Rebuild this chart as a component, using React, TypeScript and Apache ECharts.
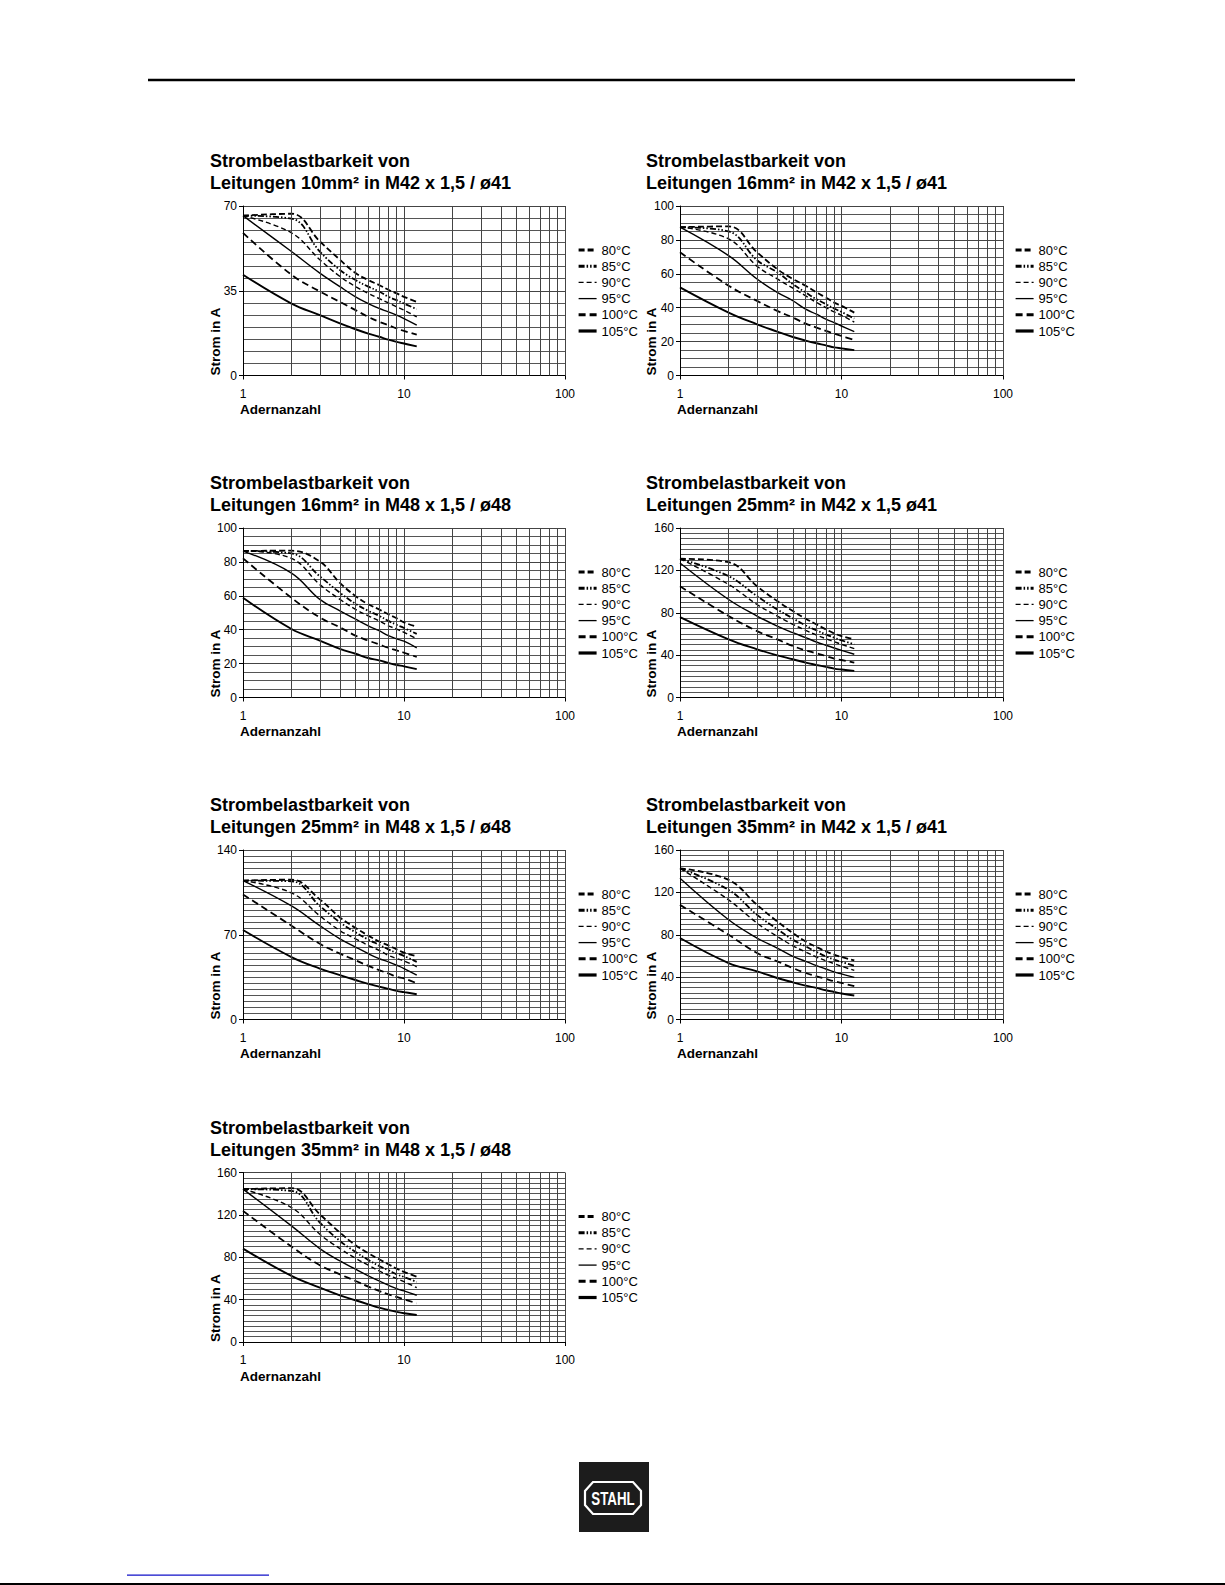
import React, { useEffect, useRef } from 'react';
import * as echarts from 'echarts';

const FONT = '"Liberation Sans", Arial, Helvetica, sans-serif';

// Adernanzahl (number of cores) at which the curves are sampled
const cores = [1, 2, 3, 4, 5, 6, 7, 8, 9, 10, 12];
const temps = ['80°C', '85°C', '90°C', '95°C', '100°C', '105°C'];
const xMinorGrid = [2, 3, 4, 5, 6, 7, 8, 9, 20, 30, 40, 50, 60, 70, 80, 90];

const titles = [
  'Strombelastbarkeit von\nLeitungen 10mm² in M42 x 1,5 / ø41',
  'Strombelastbarkeit von\nLeitungen 16mm² in M42 x 1,5 / ø41',
  'Strombelastbarkeit von\nLeitungen 16mm² in M48 x 1,5 / ø48',
  'Strombelastbarkeit von\nLeitungen 25mm² in M42 x 1,5 ø41',
  'Strombelastbarkeit von\nLeitungen 25mm² in M48 x 1,5 / ø48',
  'Strombelastbarkeit von\nLeitungen 35mm² in M42 x 1,5 / ø41',
  'Strombelastbarkeit von\nLeitungen 35mm² in M48 x 1,5 / ø48',
];
const yMax = [70, 100, 100, 160, 140, 160, 160];
const yStep = [35, 20, 20, 40, 70, 40, 40];
const yMinorSplits = [7, 4, 4, 8, 14, 8, 8];

// Strom in A, one row per temperature (80, 85, 90, 95, 100, 105 °C)
const curves10M42 = [
  [66, 66.8, 55.4, 47.8, 42.3, 39.4, 37.4, 35.4, 33.9, 32.5, 30.4],
  [66, 64.8, 51.2, 43.6, 39.4, 36.7, 34.7, 32.5, 31.1, 29.7, 27.4],
  [66, 58.9, 47.8, 40.9, 36.7, 33.9, 31.8, 30, 28.4, 27, 24.2],
  [66, 51.2, 42.3, 36.7, 32.5, 29.7, 27.7, 26.3, 24.9, 23.5, 20.8],
  [58.9, 41.6, 34.7, 30.4, 27, 24.2, 22.2, 20.8, 19.4, 18.4, 16.9],
  [41.6, 29.7, 24.9, 21.5, 19.1, 17.3, 16, 14.8, 13.9, 13.2, 12],
];
const curves16M42 = [
  [87.5, 88, 72.7, 62.8, 56.9, 53, 49, 46, 43, 41.1, 37.1],
  [87.5, 85, 68, 60.9, 53.9, 49, 45, 42.1, 39.5, 37.5, 33.6],
  [87.5, 80.6, 64.5, 57, 51.5, 47, 43.1, 40.1, 37.5, 35.5, 31.5],
  [87.5, 70.7, 56.9, 49, 44.1, 39.1, 36.2, 33.2, 31.2, 29.2, 25.9],
  [72.7, 53, 44, 38.1, 34.2, 30.6, 28.3, 26.3, 24.7, 23.3, 21],
  [52, 37.1, 30.2, 25.9, 22.7, 20.6, 19, 17.8, 16.6, 16, 15],
];
const curves16M48 = [
  [86.5, 86.6, 80.2, 67.6, 59.8, 55, 52, 49.1, 46.8, 44.3, 41.8],
  [86.5, 85, 71.5, 61.8, 55.3, 51.1, 48.2, 45.2, 42.9, 41, 37.5],
  [86.5, 82.1, 66.6, 57.9, 52, 48.2, 45.2, 42.3, 40.4, 38.4, 34.6],
  [86.4, 73.4, 57.9, 51.1, 46.2, 42.3, 39.4, 36.5, 34.6, 33.2, 29.3],
  [82.1, 58.8, 47.2, 41.4, 36.5, 33.6, 31.3, 29.3, 27.8, 26.4, 23.9],
  [58.8, 40.4, 33.6, 28.7, 25.8, 23.3, 21.9, 20.4, 19.2, 18.4, 16.7],
];
const curves25M42 = [
  [131, 127.7, 105, 91, 81.6, 74.4, 69, 64.3, 60.5, 58, 54.9],
  [131, 114.5, 95.7, 83.1, 74.7, 68, 63.4, 59.6, 56.5, 54, 50.2],
  [131, 106.7, 87.8, 76.9, 69, 63.4, 59, 55.5, 52.7, 50.2, 46.1],
  [127, 92.5, 76.9, 67.4, 61.2, 56.5, 52.4, 49.3, 46.7, 44.5, 40.8],
  [105, 76.9, 62.7, 54.9, 48.6, 44.5, 41.7, 39.2, 36.7, 35.4, 32.9],
  [75.9, 54.9, 45.5, 39.8, 36.1, 32.9, 30.7, 28.9, 27.3, 26.4, 25.1],
];
const curves25M48 = [
  [114.7, 115.5, 99.2, 84.3, 75.6, 69.3, 64.4, 61.2, 57.9, 55.2, 52.2],
  [114.7, 114.2, 93.8, 80.2, 72, 66, 61.7, 57.9, 54.9, 52.5, 47.6],
  [114.7, 104.6, 85.6, 73.4, 66.6, 61.2, 57.1, 53, 50.3, 48.4, 43.5],
  [114.7, 93.8, 77.5, 66.6, 59.8, 54.4, 50.3, 47.6, 44.8, 42.1, 36.7],
  [103.3, 77.5, 62.5, 54.4, 48.9, 44.3, 40.8, 38, 35.3, 34, 29.9],
  [73.9, 51.6, 42.1, 36.7, 32.6, 29.4, 27.2, 25.3, 23.6, 22.6, 20.9],
];
const curves35M42 = [
  [142.7, 131.8, 108.2, 92.5, 81.6, 73.7, 68.4, 64.3, 61.2, 59, 55.8],
  [142.7, 122.3, 98.8, 85.3, 75.3, 69, 63.7, 59.6, 56.5, 54.3, 50.8],
  [142.7, 112.9, 91, 78.4, 69.6, 63.7, 59, 55.5, 52.7, 50.2, 46.4],
  [133.3, 94.1, 76.9, 67.4, 59.6, 54.9, 50.8, 47.7, 44.9, 43, 39.8],
  [108.2, 80, 62.7, 54.9, 48.6, 43.9, 40.8, 38.3, 36.1, 34.5, 31.4],
  [76.9, 53.3, 45.5, 39.2, 35.1, 32, 29.8, 27.6, 26, 24.5, 22.6],
];
const curves35M48 = [
  [144.3, 145.2, 120.6, 103.3, 91.4, 83.8, 78.1, 73.4, 69.3, 66.2, 61.7],
  [144.3, 142.7, 112.8, 95.4, 85, 77.5, 71.8, 67.7, 63.9, 61.4, 56.7],
  [144.3, 126.9, 101.7, 88.2, 79.1, 72.5, 67.1, 63, 59.9, 57, 51.3],
  [144.3, 109.6, 88.2, 76.5, 68.7, 62.4, 57.6, 53.6, 50.4, 48.2, 44.1],
  [123.8, 90.1, 72.5, 63.9, 57.6, 52.3, 48.2, 45, 42.5, 40.3, 36.5],
  [88.2, 62.4, 51.3, 44.1, 39.4, 35.6, 32.4, 30.2, 28.4, 27.1, 25.5],
];
const allCurves = [curves10M42, curves16M42, curves16M48, curves25M42, curves25M48, curves35M42, curves35M48];

// layout
const chartCol = [0, 1, 0, 1, 0, 1, 0];
const chartRow = [0, 0, 1, 1, 2, 2, 3];
const colLeft = [243, 680];
const colWidth = [322, 323];
const rowTop = [206, 528, 850, 1172.5];
const plotHeight = 169.5;
const titleLeft = [210, 646];
const legendLeft = [577, 1014];
const yNameX = [215, 651.5];

const seriesStyles: any[] = [
  { color: '#000', width: 1.8, type: [6, 3] },
  { color: '#000', width: 1.8, type: [6, 2, 1.5, 2, 1.5, 2] },
  { color: '#000', width: 1.4, type: [5, 3] },
  { color: '#000', width: 1.4, type: 'solid' },
  { color: '#000', width: 1.8, type: [7, 4] },
  { color: '#000', width: 1.9, type: 'solid' },
];
const legendWidths = [3, 3, 1.3, 1.3, 3, 3.2];

function buildOption() {
  const title: any[] = [];
  const grid: any[] = [];
  const xAxis: any[] = [];
  const yAxis: any[] = [];
  const legend: any[] = [];
  const series: any[] = [];
  const graphic: any[] = [];

  allCurves.forEach((curves, i) => {
    const col = chartCol[i];
    const row = chartRow[i];
    const top = rowTop[row];
    const left = colLeft[col];
    const bottom = top + plotHeight;

    title.push({
      text: titles[i],
      left: titleLeft[col],
      top: top - 56,
      padding: 0,
      textStyle: { fontSize: 18, fontWeight: 'bold', lineHeight: 22, color: '#000', fontFamily: FONT },
    });
    grid.push({ left, top, width: colWidth[col], height: plotHeight, containLabel: false });
    xAxis.push({
      type: 'log',
      logBase: 10,
      min: 1,
      max: 100,
      gridIndex: i,
      axisLine: { show: true, onZero: false, lineStyle: { color: '#000', width: 1 } },
      axisTick: { show: true, length: 4, lineStyle: { color: '#000' } },
      axisLabel: { fontSize: 12, color: '#000', margin: 12, fontFamily: FONT },
      splitLine: { show: true, lineStyle: { color: '#444', width: 1 } },
    });
    yAxis.push({
      type: 'value',
      min: 0,
      max: yMax[i],
      interval: yStep[i],
      gridIndex: i,
      axisLine: { show: true, onZero: false, lineStyle: { color: '#000', width: 1 } },
      axisTick: { show: true, length: 4, lineStyle: { color: '#000' } },
      axisLabel: { fontSize: 12, color: '#000', margin: 6, fontFamily: FONT },
      splitLine: { show: true, lineStyle: { color: '#444', width: 1 } },
      minorTick: { show: false, splitNumber: yMinorSplits[i] },
      minorSplitLine: { show: true, lineStyle: { color: '#555', width: 1 } },
    });
    legend.push({
      orient: 'vertical',
      left: legendLeft[col],
      top: top + 37,
      padding: 0,
      itemWidth: 18,
      itemHeight: 14,
      itemGap: 2.2,
      selectedMode: false,
      textStyle: { fontSize: 13, color: '#000', fontFamily: FONT, lineHeight: 14 },
      data: temps.map((t, j) => ({
        name: t,
        itemStyle: { opacity: 0 },
        lineStyle: { width: legendWidths[j], opacity: 1 },
      })),
    });
    // minor vertical grid lines at 2..9 and 20..90
    series.push({
      type: 'line',
      xAxisIndex: i,
      yAxisIndex: i,
      data: [[1, 0]],
      symbol: 'none',
      silent: true,
      z: 1,
      lineStyle: { opacity: 0 },
      markLine: {
        silent: true,
        symbol: ['none', 'none'],
        label: { show: false },
        emphasis: { disabled: true },
        lineStyle: { color: '#444', width: 1, type: 'solid', opacity: 1 },
        data: xMinorGrid.map((v) => ({ xAxis: v })),
      },
    });
    curves.forEach((vals, j) => {
      series.push({
        type: 'line',
        name: temps[j],
        xAxisIndex: i,
        yAxisIndex: i,
        data: cores.map((c, k) => [c, vals[k]]),
        symbol: 'none',
        showSymbol: false,
        smooth: 0.4,
        z: 3,
        lineStyle: seriesStyles[j],
        itemStyle: { color: '#000' },
      });
    });
    graphic.push({
      type: 'text',
      x: yNameX[col],
      y: bottom,
      rotation: Math.PI / 2,
      style: {
        text: 'Strom in A',
        font: `bold 13.5px ${FONT}`,
        textAlign: 'left',
        textVerticalAlign: 'middle',
        fill: '#000',
      },
    });
    graphic.push({
      type: 'text',
      x: left - 3,
      y: bottom + 34,
      style: {
        text: 'Adernanzahl',
        font: `bold 13.5px ${FONT}`,
        textAlign: 'left',
        textVerticalAlign: 'middle',
        fill: '#000',
      },
    });
  });

  // page decorations
  graphic.push({ type: 'rect', shape: { x: 148, y: 78.8, width: 927, height: 2.4 }, style: { fill: '#000' } });
  graphic.push({ type: 'rect', shape: { x: 579, y: 1462, width: 70, height: 70 }, style: { fill: '#1c1c1c' } });
  graphic.push({
    type: 'polygon',
    shape: {
      points: [
        [593, 1482], [633, 1482], [641, 1491], [641, 1505],
        [633, 1514], [593, 1514], [585, 1505], [585, 1491],
      ],
    },
    style: { fill: 'none', stroke: '#fff', lineWidth: 2.2 },
  });
  graphic.push({
    type: 'text',
    x: 613,
    y: 1498.5,
    scaleX: 0.74,
    style: {
      text: 'STAHL',
      font: `bold 18px ${FONT}`,
      textAlign: 'center',
      textVerticalAlign: 'middle',
      fill: '#fff',
    },
  });
  graphic.push({ type: 'rect', shape: { x: 127, y: 1574.5, width: 142, height: 1.3 }, style: { fill: '#1010c8' } });
  graphic.push({ type: 'rect', shape: { x: 0, y: 1583, width: 1225, height: 2 }, style: { fill: '#000' } });

  return {
    animation: false,
    backgroundColor: '#fff',
    textStyle: { fontFamily: FONT },
    title,
    grid,
    xAxis,
    yAxis,
    legend,
    series,
    graphic: { elements: graphic },
  };
}

export default function App() {
  const ref = useRef<HTMLDivElement>(null);
  useEffect(() => {
    if (!ref.current) return;
    const chart = echarts.init(ref.current, undefined, { renderer: 'svg' });
    chart.setOption(buildOption() as any);
    return () => chart.dispose();
  }, []);
  return (
    <div
      ref={ref}
      style={{ position: 'absolute', left: 0, top: 0, width: 1225, height: 1585, background: '#fff' }}
    />
  );
}
